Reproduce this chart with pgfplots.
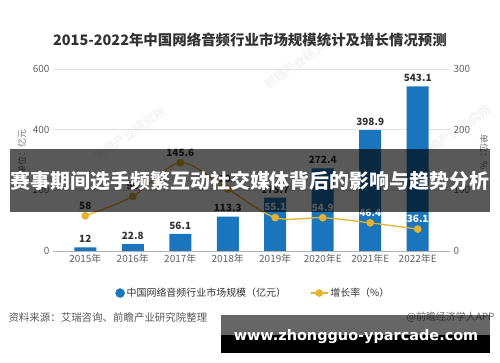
\documentclass[border=0pt]{standalone}
\usepackage{pgfplots}
\pgfplotsset{compat=1.18}
\usepackage{fontspec}
\setmainfont{Noto Sans CJK SC}
\newfontfamily\webfont{DejaVu Sans}
\definecolor{barblue}{HTML}{1B75BC}
\definecolor{linegold}{HTML}{E3B22E}
\definecolor{txt}{HTML}{333333}
\begin{document}
\begin{tikzpicture}[x=1bp,y=1bp]
\fill[white] (0,0) rectangle (500,362);
% faint watermarks
\node[rotate=35,text=black!4,font=\bfseries\fontsize{12}{14}\selectfont] at (130,228) {前瞻产业研究院};
\node[rotate=35,text=black!4,font=\bfseries\fontsize{12}{14}\selectfont] at (300,300) {前瞻产业研究院};
\node[rotate=35,text=black!4,font=\bfseries\fontsize{12}{14}\selectfont] at (455,230) {前瞻产业研究院};
% title
\node[text=txt,font=\bfseries\fontsize{14.5}{17}\selectfont] at (250,322) {2015-2022年中国网络音频行业市场规模统计及增长情况预测};
\begin{axis}[
  at={(53bp,111bp)}, anchor=south west, width=397bp, height=182bp, scale only axis,
  xmin=-0.68, xmax=7.68, ymin=0, ymax=600,
  ytick={0,200,400,600}, xtick={0,...,7},
  xticklabels={2015年,2016年,2017年,2018年,2019年,2020年E,2021年E,2022年E},
  axis line style={draw=none}, major tick length=0pt,
  ymajorgrids, grid style={draw=black!12, line width=0.8pt},
  tick label style={font=\fontsize{10}{12}\selectfont, text=black!62},
  /pgf/number format/assume math mode=true,
  ybar, bar width=22bp,
  nodes near coords,
  nodes near coords style={font=\bfseries\fontsize{10}{12}\selectfont, text=txt, /pgf/number format/fixed, /pgf/number format/precision=1, yshift=1bp},
  clip=false,
]
\addplot[fill=barblue, draw=none] coordinates {(0,12) (1,22.8) (2,56.1) (3,113.3) (4,175.7) (5,272.4) (6,398.9) (7,543.1)};
\draw[black!30, line width=0.8pt] (axis cs:-0.68,0) -- (axis cs:7.68,0);
\end{axis}
\begin{axis}[
  at={(53bp,111bp)}, anchor=south west, width=397bp, height=182bp, scale only axis,
  xmin=-0.68, xmax=7.68, ymin=0, ymax=300,
  axis y line*=right, hide x axis, axis line style={draw=none}, major tick length=0pt,
  ytick={0,100,200,300},
  tick label style={font=\fontsize{10}{12}\selectfont, text=black!62},
  /pgf/number format/assume math mode=true,
  clip=false,
  legend columns=2,
  legend style={at={(0.505,-0.231)}, anchor=center, draw=none, fill=none,
    font=\fontsize{10}{12}\selectfont, text=txt,
    /tikz/every even column/.append style={column sep=22bp}},
]
\addlegendimage{only marks, mark=*, mark size=4.5bp, color=barblue}
\addlegendentry{中国网络音频行业市场规模（亿元）}
\addplot[smooth, color=linegold, line width=1.3pt, mark=*, mark size=3.2bp, mark options={fill=linegold}]
  coordinates {(0,58) (1,90) (2,145.6) (3,102) (4,55.1) (5,54.9) (6,46.4) (7,36.1)};
\addlegendentry{增长率（\%）}
\addplot[forget plot, draw=none, nodes near coords, point meta=explicit symbolic,
  nodes near coords style={font=\bfseries\fontsize{10}{12}\selectfont, text=txt, anchor=south, yshift=3bp}]
  coordinates {(0,58) [58] (1,90) [90] (2,145.6) [145.6] (3,102) [102]};
\addplot[forget plot, draw=none, nodes near coords, point meta=explicit symbolic,
  nodes near coords style={font=\bfseries\fontsize{10}{12}\selectfont, text=white, anchor=south, yshift=3bp}]
  coordinates {(4,55.1) [55.1] (5,54.9) [54.9] (6,46.4) [46.4] (7,36.1) [36.1]};
\end{axis}
% axis unit labels
\node[rotate=90,text=black!55,font=\fontsize{9}{11}\selectfont] at (22,210) {单位：亿元};
\node[rotate=-90,text=black!55,font=\fontsize{9}{11}\selectfont] at (484,210) {单位：\%};
% overlay banner
\fill[black, opacity=0.65] (10,150) rectangle (490,213);
\node[text=white,font=\bfseries\fontsize{20}{24}\selectfont] at (250,181) {赛事期间选手频繁互动社交媒体背后的影响与趋势分析};
% source
\node[anchor=west,text=black!65,font=\fontsize{10.5}{12}\selectfont] at (5,44) {资料来源：艾瑞咨询、前瞻产业研究院整理};
\node[anchor=east,text=black!55,font=\fontsize{10}{12}\selectfont] at (498,45) {@前瞻经济学人APP};
% bottom watermark box
\fill[black, opacity=0.6] (221,27) rectangle (490,47);
\fill[black] (221,9) rectangle (490,27);
\node[text=white,font=\webfont\bfseries\fontsize{14.5}{17}\selectfont] at (356,25) {www.zhongguo-yparcade.com};
\pgfresetboundingbox
\useasboundingbox (0,0) rectangle (500,362);
\end{tikzpicture}
\end{document}
